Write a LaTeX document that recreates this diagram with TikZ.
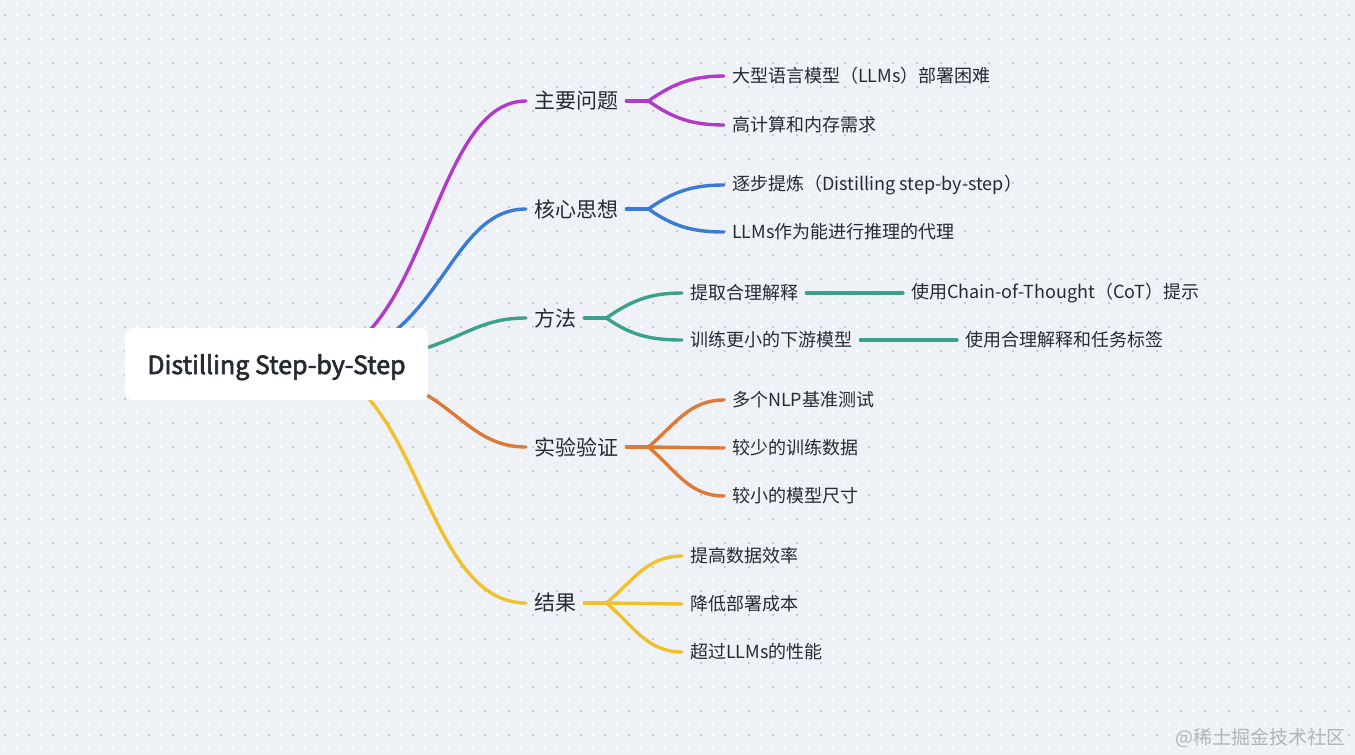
\documentclass[tikz,border=0pt]{standalone}
\usepackage{fontspec}
\setmainfont{Noto Sans CJK SC}
\newfontfamily\rootfont[FakeBold=2.5]{Noto Sans CJK SC}
\usetikzlibrary{calc}
\pgfdeclarelayer{edges}
\pgfsetlayers{edges,main}
\definecolor{bgc}{HTML}{EEF1F5}
\definecolor{dotc}{HTML}{C5CAD2}
\definecolor{txt}{HTML}{262A31}
\definecolor{cpurple}{HTML}{B13BC6}
\definecolor{cblue}{HTML}{3B7BD4}
\definecolor{cteal}{HTML}{3AA18A}
\definecolor{corange}{HTML}{DD7A37}
\definecolor{cyellow}{HTML}{EFC12F}
\definecolor{wmark}{HTML}{B2B4B8}
\begin{document}
\begin{tikzpicture}[x=1pt,y=-1pt,
  lvl1/.style={anchor=west,inner xsep=8pt,inner ysep=2pt,font=\fontsize{21}{25}\selectfont,text=txt},
  leaf/.style={anchor=west,inner xsep=8pt,inner ysep=2pt,font=\fontsize{18}{22}\selectfont,text=txt},
  br/.style={line width=3.4pt,line cap=round,draw=#1},
]
\useasboundingbox (0,0) rectangle (1355,755);
\begin{pgfonlayer}{edges}
  \fill[bgc] (0,0) rectangle (1355,755);
  \foreach \j in {0,...,62}{\draw[white,line width=1.8pt,dash pattern=on 1.8pt off 10.2pt] (4.1,3+12*\j) -- (1355,3+12*\j);}
  \foreach \j in {0,...,31}{\draw[dotc,line width=2pt,dash pattern=on 2pt off 22pt] (4,15+24*\j) -- (1355,15+24*\j);}
\end{pgfonlayer}

% root
\node[fill=white,rounded corners=8pt,minimum width=303pt,minimum height=72pt,
      text height=22pt,text depth=2pt,
      font=\rootfont\fontsize{25}{30}\selectfont,text=txt] (root) at (276.5,364) {Distilling Step-by-Step};
\coordinate (rs) at (300,364);

% level 1
\node[lvl1] (b1) at (526,101) {主要问题};
\node[lvl1] (b2) at (526,209) {核心思想};
\node[lvl1] (b3) at (526,318) {方法};
\node[lvl1] (b4) at (526,447) {实验验证};
\node[lvl1] (b5) at (526,603) {结果};

% leaves
\node[leaf] (l11) at (724,76) {大型语言模型（LLMs）部署困难};
\node[leaf] (l12) at (724,125) {高计算和内存需求};
\node[leaf] (l21) at (724,185) {逐步提炼（Distilling step-by-step）};
\node[leaf] (l22) at (724,232) {LLMs作为能进行推理的代理};
\node[leaf] (l31) at (682,293) {提取合理解释};
\node[leaf] (l32) at (682,340) {训练更小的下游模型};
\node[leaf] (l311) at (903,293) {使用Chain-of-Thought（CoT）提示};
\node[leaf] (l321) at (957,340) {使用合理解释和任务标签};
\node[leaf] (l41) at (724,400) {多个NLP基准测试};
\node[leaf] (l42) at (724,448) {较少的训练数据};
\node[leaf] (l43) at (724,496) {较小的模型尺寸};
\node[leaf] (l51) at (682,556) {提高数据效率};
\node[leaf] (l52) at (682,604) {降低部署成本};
\node[leaf] (l53) at (682,652) {超过LLMs的性能};

\node[font=\fontsize{19}{22}\selectfont,text=wmark,anchor=east,inner sep=0pt] (wm) at (1346,738) {@稀土掘金技术社区};

\begin{pgfonlayer}{edges}
  % root to level 1
  \draw[br=cpurple] (rs) .. controls (429,364) and (429,101) .. (b1.west);
  \draw[br=cblue]   (rs) .. controls (442,364) and (442,209) .. (b2.west);
  \draw[br=cteal]   (rs) .. controls (456,364) and (456,318) .. (b3.west);
  \draw[br=corange] (rs) .. controls (452,364) and (452,447) .. (b4.west);
  \draw[br=cyellow] (rs) .. controls (420,364) and (420,603) .. (b5.west);

  % 主要问题
  \draw[br=cpurple] (b1.east) -- ++(22,0) coordinate (f1);
  \draw[br=cpurple] (f1) to[out=35,in=180] (l11.west);
  \draw[br=cpurple] (f1) to[out=-35,in=180] (l12.west);
  % 核心思想
  \draw[br=cblue] (b2.east) -- ++(22,0) coordinate (f2);
  \draw[br=cblue] (f2) to[out=35,in=180] (l21.west);
  \draw[br=cblue] (f2) to[out=-35,in=180] (l22.west);
  % 方法
  \draw[br=cteal] (b3.east) -- ++(22,0) coordinate (f3);
  \draw[br=cteal] (f3) to[out=35,in=180] (l31.west);
  \draw[br=cteal] (f3) to[out=-35,in=180] (l32.west);
  \draw[br=cteal] (l31.east) -- (l311.west);
  \draw[br=cteal] (l32.east) -- (l321.west);
  % 实验验证
  \draw[br=corange] (b4.east) -- ++(22,0) coordinate (f4);
  \draw[br=corange] (f4) to[out=40,in=180] (l41.west);
  \draw[br=corange] (f4) -- (l42.west);
  \draw[br=corange] (f4) to[out=-40,in=180] (l43.west);
  % 结果
  \draw[br=cyellow] (b5.east) -- ++(22,0) coordinate (f5);
  \draw[br=cyellow] (f5) to[out=40,in=180] (l51.west);
  \draw[br=cyellow] (f5) -- (l52.west);
  \draw[br=cyellow] (f5) to[out=-40,in=180] (l53.west);
\end{pgfonlayer}
\end{tikzpicture}
\end{document}
